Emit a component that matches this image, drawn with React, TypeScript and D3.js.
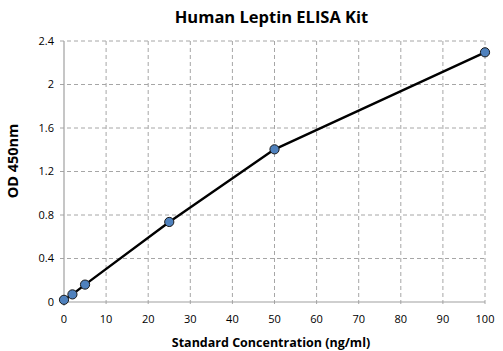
import { useEffect, useRef } from 'react'
import * as d3 from 'd3'

const concentrations = [0, 2, 5, 25, 50, 100]
const odValues = [0.02, 0.07, 0.16, 0.736, 1.404, 2.296]
const xTicks = [0, 10, 20, 30, 40, 50, 60, 70, 80, 90, 100]
const yTicks = [0, 0.4, 0.8, 1.2, 1.6, 2, 2.4]

const width = 503
const height = 351

export default function App() {
  const svgRef = useRef<SVGSVGElement>(null)

  useEffect(() => {
    if (!svgRef.current) return
    const svg = d3.select(svgRef.current)
    svg.selectAll('*').remove()

    const font = '"Open Sans", "Liberation Sans", sans-serif'
    const x = d3.scaleLinear().domain([0, 100]).range([64, 485])
    const y = d3.scaleLinear().domain([0, 2.4]).range([302, 41])

    svg.append('rect').attr('width', width).attr('height', height).attr('fill', '#fff')

    // grid
    yTicks.forEach(t => {
      if (t === 0) return
      svg.append('line')
        .attr('x1', 60).attr('x2', x(100))
        .attr('y1', y(t)).attr('y2', y(t))
        .attr('stroke', '#a6a6a6').attr('stroke-dasharray', '4,3')
    })
    xTicks.forEach(t => {
      if (t === 0) return
      svg.append('line')
        .attr('x1', x(t)).attr('x2', x(t))
        .attr('y1', y(2.4)).attr('y2', y(0) + 4)
        .attr('stroke', '#a6a6a6').attr('stroke-dasharray', '4,3')
    })

    // axes
    svg.append('line')
      .attr('x1', x(0)).attr('x2', x(0)).attr('y1', y(2.4)).attr('y2', y(0))
      .attr('stroke', '#a0a0a0').attr('stroke-width', 1.2)
    svg.append('line')
      .attr('x1', 60).attr('x2', x(100)).attr('y1', y(0)).attr('y2', y(0))
      .attr('stroke', '#a0a0a0').attr('stroke-width', 1.2)
    svg.append('line')
      .attr('x1', x(0)).attr('x2', x(0)).attr('y1', y(0)).attr('y2', y(0) + 4)
      .attr('stroke', '#a0a0a0')

    // tick labels
    xTicks.forEach(t => {
      svg.append('text')
        .attr('x', x(t)).attr('y', 323)
        .attr('text-anchor', 'middle')
        .attr('font-family', font).attr('font-size', 11).attr('fill', '#000')
        .text(t)
    })
    yTicks.forEach(t => {
      svg.append('text')
        .attr('x', 54).attr('y', y(t)).attr('dy', '0.35em')
        .attr('text-anchor', 'end')
        .attr('font-family', font).attr('font-size', 11).attr('fill', '#000')
        .text(String(t))
    })

    // line
    const pts = concentrations.map((c, i) => [c, odValues[i]] as [number, number])
    const line = d3.line<[number, number]>()
      .x(d => x(d[0])).y(d => y(d[1]))
    svg.append('path')
      .datum(pts)
      .attr('d', line)
      .attr('fill', 'none')
      .attr('stroke', '#000')
      .attr('stroke-width', 2.4)
      .attr('stroke-linejoin', 'round')

    pts.forEach(d => {
      svg.append('circle')
        .attr('cx', x(d[0])).attr('cy', y(d[1])).attr('r', 4.6)
        .attr('fill', '#4f81bd').attr('stroke', '#1a1a1a').attr('stroke-width', 1)
    })

    // titles
    svg.append('text')
      .attr('x', 271.5).attr('y', 23)
      .attr('text-anchor', 'middle')
      .attr('font-family', font).attr('font-size', 16.5).attr('font-weight', 'bold')
      .text('Human Leptin ELISA Kit')
    svg.append('text')
      .attr('x', 271).attr('y', 347)
      .attr('text-anchor', 'middle')
      .attr('font-family', font).attr('font-size', 12.5).attr('font-weight', 'bold')
      .text('Standard Concentration (ng/ml)')
    svg.append('text')
      .attr('transform', `translate(18,161) rotate(-90)`)
      .attr('text-anchor', 'middle')
      .attr('font-family', font).attr('font-size', 14.5).attr('font-weight', 'bold')
      .text('OD 450nm')
  }, [])

  return (
    <svg
      ref={svgRef}
      width={width}
      height={height}
      style={{ position: 'absolute', left: 0, top: 0 }}
    />
  )
}
